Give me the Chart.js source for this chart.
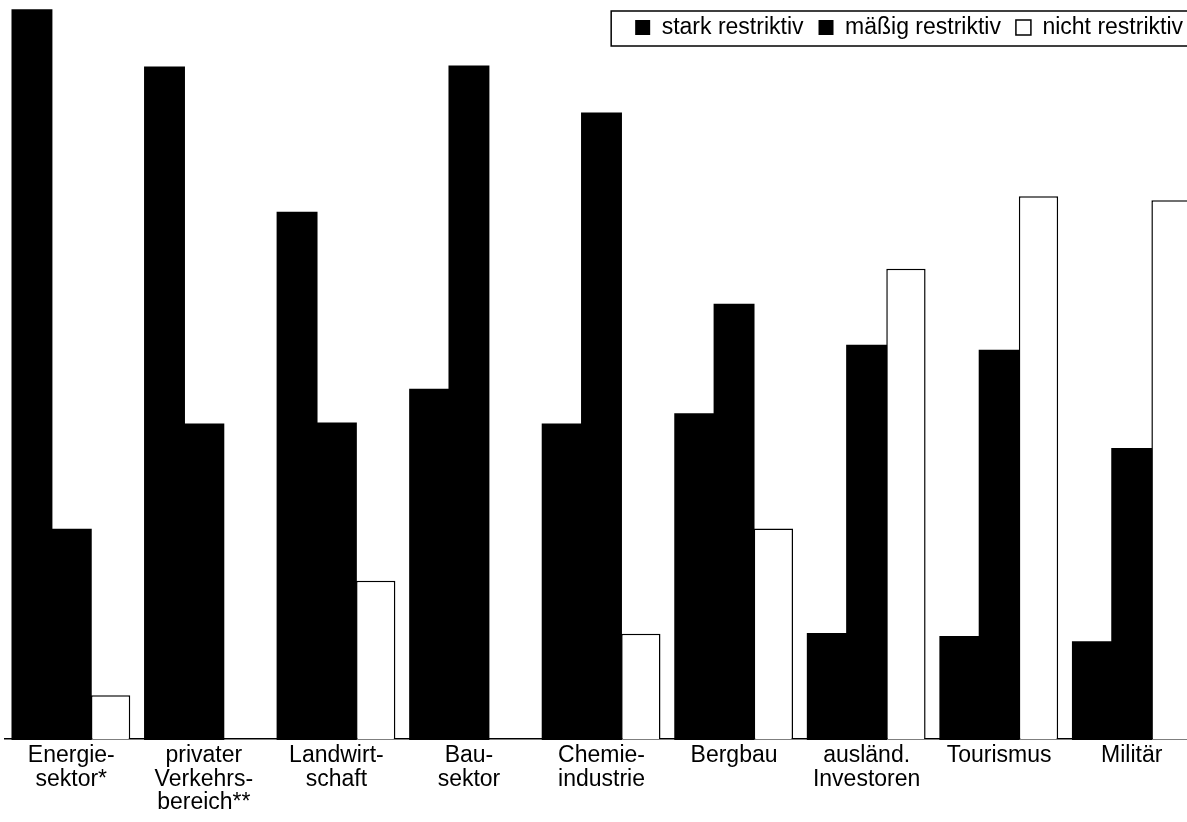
<!DOCTYPE html>
<html>
<head>
<meta charset="utf-8">
<script src="https://cdn.jsdelivr.net/npm/chart.js@4.4.1/dist/chart.umd.min.js"></script>
<style>
  html, body { margin: 0; padding: 0; background: #fff; overflow: hidden; }
  #wrap { position: absolute; left: 0; top: 0; width: 1200px; height: 822px; }
</style>
</head>
<body>
<div id="wrap"><canvas id="c" width="1200" height="822" style="width:1200px;height:822px"></canvas></div>
<script>
const categories = [
  ['Energie-', 'sektor*'],
  ['privater', 'Verkehrs-', 'bereich**'],
  ['Landwirt-', 'schaft'],
  ['Bau-', 'sektor'],
  ['Chemie-', 'industrie'],
  ['Bergbau'],
  ['ausländ.', 'Investoren'],
  ['Tourismus'],
  ['Militär']
];
const seriesNames = ['stark restriktiv', 'mäßig restriktiv', 'nicht restriktiv'];
const starkRestriktiv   = [71.3, 65.7, 51.5, 34.2, 30.8, 31.8, 10.3, 10.0, 9.5];
const maessigRestriktiv = [20.5, 30.8, 30.9, 65.8, 61.2, 42.5, 38.5, 38.0, 28.4];
const nichtRestriktiv   = [4.3, 0, 15.5, 0, 10.3, 20.6, 46.0, 53.1, 52.7];

const FONT = '"Liberation Sans", Arial, Helvetica, sans-serif';

const legendFrame = {
  id: 'legendFrame',
  afterDraw(chart) {
    const lg = chart.legend;
    if (!lg || !lg.legendHitBoxes || !lg.legendHitBoxes.length) return;
    const hb = lg.legendHitBoxes;
    const ctx = chart.ctx;
    const left = hb[0].left - 24;
    const top = hb[0].top - 5;
    const bottom = hb[0].top + hb[0].height + 7;
    ctx.save();
    ctx.strokeStyle = '#000';
    ctx.lineWidth = 1.5;
    ctx.strokeRect(left, top, chart.width + 10 - left, bottom - top);
    ctx.restore();
  }
};

new Chart(document.getElementById('c'), {
  type: 'bar',
  data: {
    labels: categories,
    datasets: [
      { label: seriesNames[0], data: starkRestriktiv, backgroundColor: '#000', borderColor: '#000', borderWidth: 0, inflateAmount: 0.8, clip: false },
      { label: seriesNames[1], data: maessigRestriktiv, backgroundColor: '#000', borderColor: '#000', borderWidth: 0, inflateAmount: 0.8, clip: false },
      { label: seriesNames[2], data: nichtRestriktiv, backgroundColor: '#fff', borderColor: '#000', borderWidth: 1.5, clip: false }
    ]
  },
  options: {
    responsive: false,
    animation: false,
    devicePixelRatio: 1,
    layout: { padding: { left: 5, right: 2, top: 1, bottom: 2.5 } },
    datasets: { bar: { categoryPercentage: 0.89, barPercentage: 1.0 } },
    plugins: {
      tooltip: { enabled: false },
      legend: {
        display: true,
        position: 'top',
        align: 'end',
        labels: {
          color: '#000',
          font: { family: FONT, size: 23 },
          boxWidth: 15,
          boxHeight: 15,
          padding: 15,
          generateLabels(chart) {
            return chart.data.datasets.map((ds, i) => ({
              text: ds.label,
              fillStyle: ds.backgroundColor,
              strokeStyle: '#000',
              lineWidth: i === 2 ? 1.5 : 0,
              fontColor: '#000',
              datasetIndex: i,
              hidden: false
            }));
          }
        }
      }
    },
    scales: {
      x: {
        grid: { display: false, drawTicks: false },
        border: { display: true, color: '#000', width: 1.5 },
        ticks: {
          color: '#000',
          padding: 5,
          maxRotation: 0,
          autoSkip: false,
          font: { family: FONT, size: 23, lineHeight: 1.02 }
        }
      },
      y: {
        display: false,
        min: 0,
        max: 67.5
      }
    }
  },
  plugins: [legendFrame]
});
</script>
</body>
</html>
